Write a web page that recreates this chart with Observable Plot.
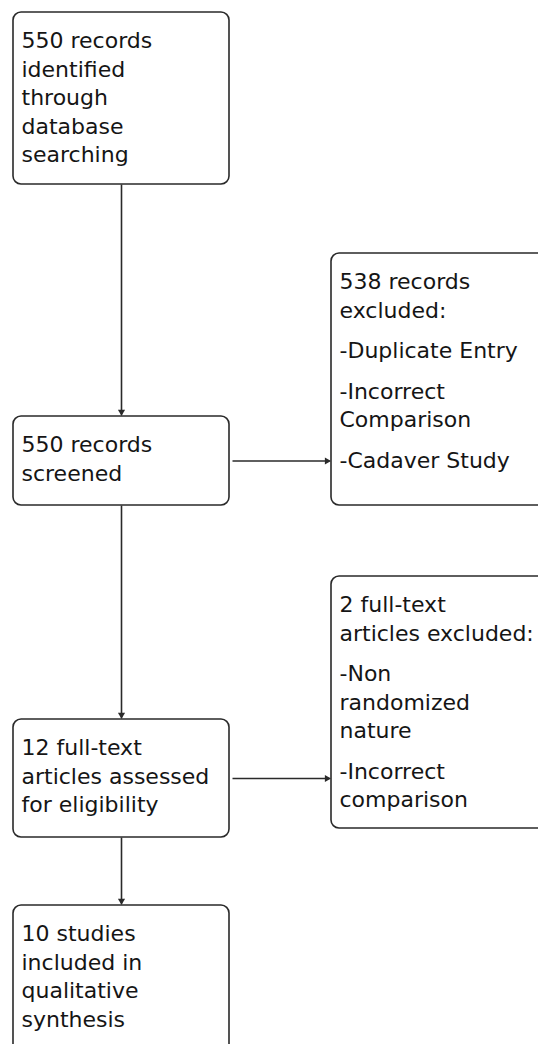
<!DOCTYPE html>
<html>
<head>
<meta charset="utf-8">
<script src="https://cdn.jsdelivr.net/npm/d3@7"></script>
<script src="https://cdn.jsdelivr.net/npm/@observablehq/plot@0.6"></script>
<style>
  html, body { margin: 0; padding: 0; background: #fff; overflow: hidden; }
  #chart svg { display: block; }
</style>
</head>
<body>
<div id="chart"></div>
<script>
// ---- Content (text of each flow box, split in paragraphs / lines) ----
const nodeIds = ["identified", "screened", "excluded1", "assessed", "excluded2", "included"];

const identifiedText = [["550 records", "identified", "through", "database", "searching"]];
const screenedText   = [["550 records", "screened"]];
const excluded1Text  = [["538 records", "excluded:"], ["-Duplicate Entry"], ["-Incorrect", "Comparison"], ["-Cadaver Study"]];
const assessedText   = [["12 full-text", "articles assessed", "for eligibility"]];
const excluded2Text  = [["2 full-text", "articles excluded:"], ["-Non", "randomized", "nature"], ["-Incorrect", "comparison"]];
const includedText   = [["10 studies", "included in", "qualitative", "synthesis"]];

const nodeTexts = [identifiedText, screenedText, excluded1Text, assessedText, excluded2Text, includedText];

// flow links: [from, to, direction]
const links = [
  ["identified", "screened", "down"],
  ["screened", "excluded1", "right"],
  ["screened", "assessed", "down"],
  ["assessed", "excluded2", "right"],
  ["assessed", "included", "down"]
];

// ---- Layout (diagram units = pixels) ----
const layout = {
  identified: {x1: 13,  x2: 229, y1: 12,  y2: 184},
  screened:   {x1: 13,  x2: 229, y1: 416, y2: 505},
  excluded1:  {x1: 331, x2: 560, y1: 253, y2: 505},
  assessed:   {x1: 13,  x2: 229, y1: 719, y2: 837},
  excluded2:  {x1: 331, x2: 560, y1: 576, y2: 828},
  included:   {x1: 13,  x2: 229, y1: 905, y2: 1070}
};
const fontSize = 22, lineH = 28.5, paraGap = 12, padX = 8, padTop = 15.5;

const boxes = nodeIds.map(id => ({id, ...layout[id]}));

const paragraphs = [];
nodeIds.forEach((id, i) => {
  const b = layout[id];
  let off = 0;
  nodeTexts[i].forEach((lines) => {
    paragraphs.push({x: b.x1 + padX, y: b.y1 + padTop + off, text: lines.join("\n")});
    off += lines.length * lineH + paraGap;
  });
});

const segs = [], heads = [];
links.forEach(([from, to, dir]) => {
  const a = layout[from], b = layout[to];
  if (dir === "down") {
    const x = (a.x1 + a.x2) / 2;
    segs.push({x1: x, y1: a.y2, x2: x, y2: b.y1 - 2});
    heads.push({x, y: b.y1 - 4.6, rot: 180});
  } else {
    const y = (a.y1 + a.y2) / 2;
    segs.push({x1: a.x2 + 3, y1: y, x2: b.x1 - 2, y2: y});
    heads.push({x: b.x1 - 4.6, y, rot: 90});
  }
});

const W = 538, H = 1044;
const chart = Plot.plot({
  width: W, height: H,
  margin: 0,
  x: {domain: [0, W], range: [0, W], axis: null},
  y: {domain: [0, H], range: [0, H], axis: null},
  style: {background: "#fff", overflow: "hidden"},
  marks: [
    Plot.rect(boxes, {x1: "x1", x2: "x2", y1: "y1", y2: "y2", rx: 8, fill: "#fff", stroke: "#2a2a2a", strokeWidth: 1.6, clip: true}),
    Plot.link(segs, {x1: "x1", y1: "y1", x2: "x2", y2: "y2", stroke: "#2a2a2a", strokeWidth: 1.6}),
    Plot.dot(heads.filter(d => d.rot === 180), {x: "x", y: "y", symbol: "triangle2", r: 3.4, rotate: 180, fill: "#2a2a2a", stroke: "none"}),
    Plot.dot(heads.filter(d => d.rot === 90), {x: "x", y: "y", symbol: "triangle2", r: 3.4, rotate: 90, fill: "#2a2a2a", stroke: "none"}),
    Plot.text(paragraphs, {x: "x", y: "y", text: "text", textAnchor: "start", lineAnchor: "top", lineHeight: lineH / fontSize,
      fontSize, fontFamily: "DejaVu Sans, Verdana, sans-serif", fill: "#151515"})
  ]
});
document.getElementById("chart").appendChild(chart);
</script>
</body>
</html>
